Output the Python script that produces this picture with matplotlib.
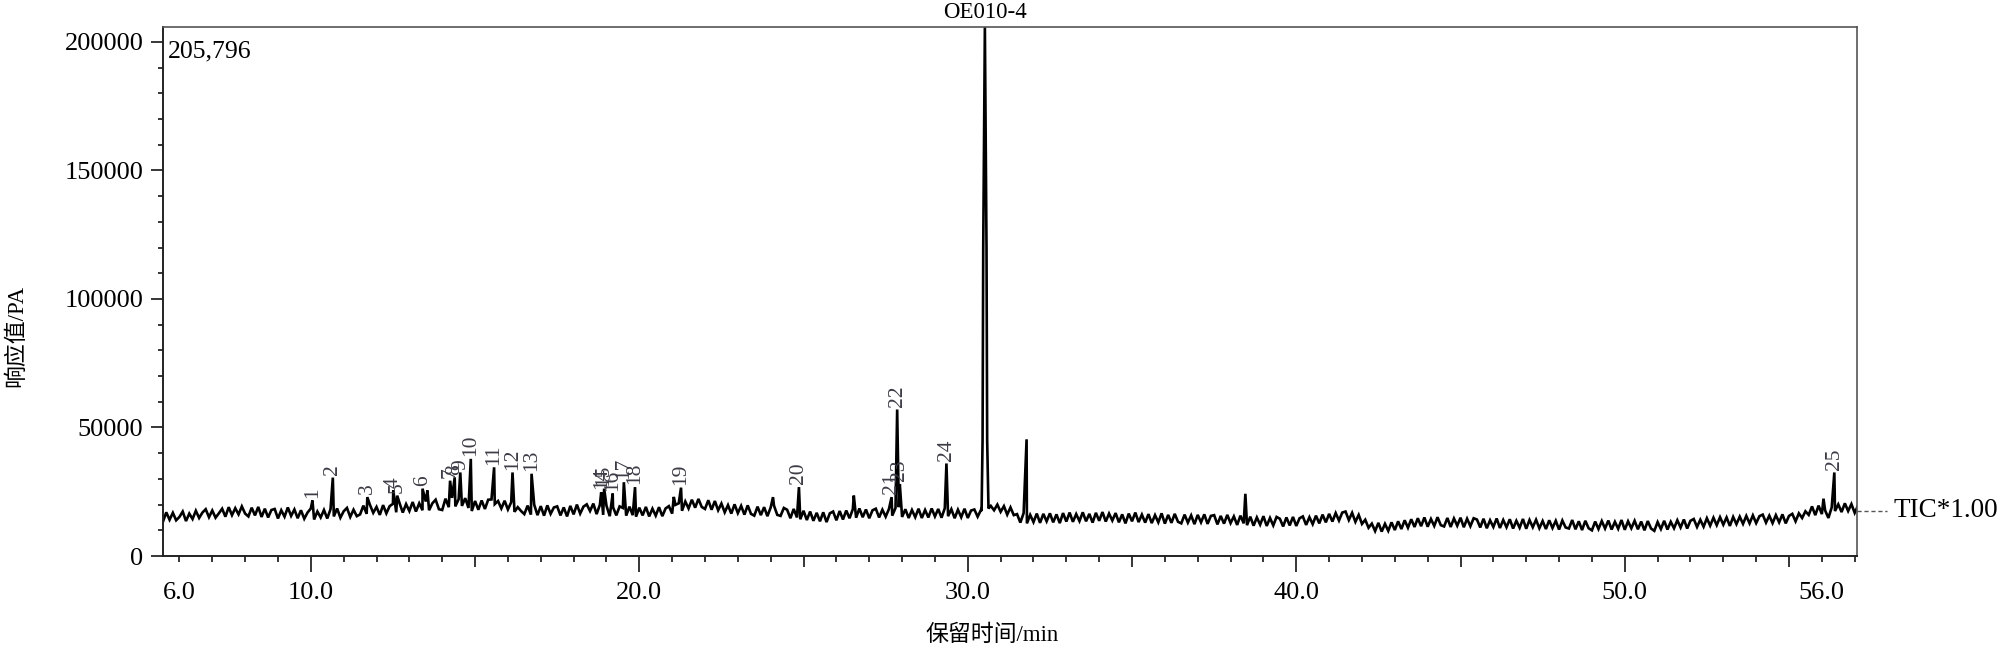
"""
TIC chromatogram of sample OE010-4 (response vs. retention time).
"""

import numpy as np
import matplotlib
matplotlib.use('Agg')
import matplotlib.pyplot as plt
import matplotlib.transforms as mtransforms

plt.rcParams['font.family'] = ['Liberation Serif', 'Noto Sans CJK SC']

# Baseline signal in thousands of PA, one sample every 0.1 min from 5.5 min
BASE_START = 5.5
BASE_STEP = 0.1
baseline_k = [
    13.4, 17.0, 14.1, 16.8, 13.9, 15.2, 17.3, 13.6, 16.5, 14.4,
    17.6, 14.8, 16.9, 18.2, 15.1, 17.7, 14.9, 16.6, 18.4, 15.3,
    19.0, 15.9, 18.6, 16.2, 19.3, 16.5, 15.4, 18.8, 15.8, 19.1,
    15.2, 18.4, 15.0, 17.9, 18.3, 14.6, 17.8, 15.3, 18.9, 15.6,
    18.1, 14.7, 17.8, 14.5, 16.9, 18.5, 14.2, 17.3, 15.0, 17.9,
    14.6, 18.2, 15.4, 18.5, 14.9, 17.4, 18.7, 15.2, 18.0, 15.5,
    16.2, 19.6, 16.4, 19.9, 16.8, 19.1, 16.0, 19.8, 16.6, 19.4,
    20.3, 17.0, 20.6, 16.9, 20.2, 17.5, 21.0, 17.3, 20.5, 17.8,
    21.2, 17.8, 20.5, 21.9, 18.2, 17.9, 22.3, 19.0, 22.6, 19.3,
    22.1, 19.5, 22.5, 18.7, 17.5, 21.4, 18.0, 21.6, 18.3, 21.9,
    22.0, 20.2, 21.4, 18.5, 21.5, 18.1, 20.9, 17.2, 19.0, 17.5,
    16.3, 19.6, 16.1, 20.0, 15.9, 19.4, 15.7, 19.7, 16.4, 18.9,
    19.3, 15.8, 18.9, 15.4, 19.5, 16.2, 20.0, 16.5, 19.2, 20.1,
    17.5, 20.4, 16.3, 19.9, 16.0, 19.6, 15.5, 19.0, 15.8, 19.3,
    18.7, 15.7, 19.2, 15.9, 15.3, 18.8, 15.8, 19.1, 15.4, 18.4,
    15.7, 19.0, 15.5, 18.5, 19.4, 16.5, 19.9, 20.5, 17.6, 21.2,
    18.5, 21.9, 18.8, 22.2, 19.1, 18.3, 21.7, 18.0, 21.4, 17.8,
    20.4, 17.0, 19.8, 16.5, 20.1, 16.7, 19.5, 16.1, 19.7, 16.4,
    15.7, 19.2, 15.9, 19.0, 15.5, 18.9, 19.6, 16.0, 15.6, 18.7,
    18.0, 14.7, 18.3, 15.0, 14.3, 17.6, 14.0, 17.3, 13.7, 16.8,
    13.5, 17.0, 13.2, 16.6, 17.3, 13.9, 17.5, 14.2, 17.7, 14.7,
    18.2, 14.9, 18.5, 15.1, 18.1, 14.7, 17.8, 18.4, 15.0, 18.0,
    15.3, 18.3, 15.7, 18.7, 19.0, 15.2, 18.2, 14.8, 17.9, 15.1,
    18.4, 14.8, 17.9, 15.0, 18.5, 15.4, 18.3, 14.9, 18.6, 15.5,
    18.2, 14.7, 18.0, 15.1, 18.4, 14.8, 17.7, 18.1, 15.3, 17.9,
    18.5, 19.2, 19.5, 17.8, 20.0, 17.2, 19.4, 16.1, 18.9, 15.9,
    16.3, 13.0, 16.7, 12.7, 16.0, 13.2, 16.5, 12.9, 16.4, 13.5,
    16.6, 13.1, 16.2, 12.8, 16.7, 13.4, 16.9, 13.3, 16.3, 13.6,
    17.0, 13.5, 16.4, 13.0, 16.8, 13.7, 17.1, 13.4, 16.5, 13.8,
    16.7, 13.1, 16.2, 12.7, 16.5, 13.5, 16.9, 13.2, 16.1, 13.0,
    16.3, 12.8, 15.9, 13.1, 16.6, 12.6, 16.0, 12.9, 16.4, 13.3,
    12.7, 16.1, 13.0, 15.8, 12.4, 16.0, 13.1, 16.2, 12.5, 15.6,
    15.9, 12.3, 15.6, 12.6, 16.0, 12.8, 15.4, 12.1, 15.7, 12.7,
    12.0, 15.3, 11.8, 15.0, 12.2, 15.5, 11.7, 14.8, 11.9, 15.2,
    14.5, 11.5, 15.0, 11.9, 15.2, 11.7, 14.7, 15.4, 12.1, 15.1,
    12.4, 15.7, 12.7, 16.1, 13.1, 16.4, 13.4, 16.7, 13.8, 16.9,
    17.3, 14.0, 16.8, 13.3, 16.0, 12.5, 14.1, 11.0, 12.6, 9.7,
    12.9, 9.5, 12.5, 9.8, 13.1, 10.1, 13.5, 10.5, 13.9, 11.0,
    14.3, 11.3, 14.7, 11.6, 15.0, 11.4, 14.4, 11.7, 15.1, 12.0,
    11.5, 14.8, 11.3, 14.6, 11.8, 14.9, 11.2, 14.5, 11.6, 14.7,
    14.2, 11.1, 14.5, 10.8, 13.9, 11.3, 14.6, 10.9, 14.0, 11.2,
    14.3, 10.7, 13.7, 11.0, 14.4, 10.6, 14.0, 11.2, 14.1, 10.8,
    13.6, 10.5, 13.9, 10.9, 13.7, 10.3, 13.8, 11.1, 10.7, 14.0,
    10.4, 13.5, 10.1, 13.7, 10.8, 10.0, 13.4, 10.5, 13.6, 10.7,
    13.8, 10.3, 13.3, 10.6, 14.0, 10.2, 13.5, 10.8, 13.7, 10.4,
    13.4, 10.0, 13.6, 10.7, 9.8, 13.2, 10.5, 13.7, 10.3, 13.3,
    10.8, 13.9, 11.1, 14.2, 10.7, 13.7, 14.4, 11.3, 14.1, 11.4,
    14.7, 11.8, 14.9, 12.0, 15.1, 12.2, 15.0, 11.7, 15.2, 12.4,
    15.3, 12.5, 15.6, 12.7, 15.8, 12.8, 15.5, 16.1, 13.0, 15.7,
    12.8, 15.9, 13.1, 16.2, 12.7, 15.6, 16.4, 13.5, 16.6, 14.8,
    17.4, 16.0, 19.3, 15.9, 19.6, 16.3, 17.7, 14.8, 18.9, 17.5,
    20.1, 17.1, 20.5, 17.5, 20.2, 16.8, 19.6,
]

# Narrow peaks: retention time (min), apex (thousands of PA), label
peak_times = [10.05, 10.67, 11.72, 12.51, 12.63, 13.40, 13.55, 14.24, 14.38,
              14.55, 14.87, 15.58, 16.14, 16.72, 18.84, 18.93, 19.19, 19.53,
              19.87, 21.05, 21.27, 24.07, 24.86, 26.53, 27.68, 27.85, 27.93,
              29.35, 31.79, 38.45, 56.05, 56.38]
peak_heights_k = [21.6, 30.5, 22.9, 25.5, 23.5, 26.2, 25.5, 29.3, 30.6,
                  32.5, 37.8, 34.5, 32.5, 32.0, 24.8, 26.2, 24.3, 28.7,
                  26.8, 23.0, 26.6, 22.9, 26.8, 23.5, 22.9, 57.0, 28.0,
                  36.0, 45.4, 24.2, 22.3, 32.5]
peak_labels = ['1', '2', '3', '4', '5', '6', '', '7', '8',
               '9', '10', '11', '12', '13', '14', '15', '16', '17',
               '18', '', '19', '', '20', '', '21', '22', '23',
               '24', '', '', '', '25']

# Main peak (OE010-4) outline
main_times = [30.42, 30.45, 30.47, 30.52, 30.57, 30.59, 30.63]
main_heights_k = [17.5, 45.0, 120.0, 205.796, 120.0, 45.0, 18.5]

Y_MAX = 205796
x_major = [6, 10, 15, 20, 25, 30, 35, 40, 45, 50, 55, 56]
x_labelled = {6: '6.0', 10: '10.0', 20: '20.0', 30: '30.0', 40: '40.0',
              50: '50.0', 56: '56.0'}
y_major = [0, 50000, 100000, 150000, 200000]

# Merge baseline, narrow peaks and main peak into one trace
base_t = BASE_START + BASE_STEP * np.arange(len(baseline_k))
base_y = np.array(baseline_k) * 1000
keep = (base_t < main_times[0]) | (base_t > main_times[-1])
t = np.concatenate([base_t[keep], peak_times, main_times])
y = np.concatenate([base_y[keep], np.array(peak_heights_k) * 1000,
                    np.array(main_heights_k) * 1000])
order = np.argsort(t, kind='stable')
t, y = t[order], y[order]

fig = plt.figure(figsize=(20, 6.46), dpi=100)
ax = fig.add_axes([0.0815, 0.1393, 0.847, 0.8189])

ax.plot(t, y, color='black', linewidth=1.9, solid_joinstyle='miter')

ax.set_xlim(5.5, 57.07)
ax.set_ylim(0, Y_MAX)

# Peak numbers
for pt, ph, lab in zip(peak_times, peak_heights_k, peak_labels):
    if lab:
        ax.annotate(lab, xy=(pt, ph * 1000), xytext=(0, 2),
                    textcoords='offset points', rotation=90,
                    ha='center', va='bottom', fontsize=15.5, color='#3c3c46')

# Ticks
ax.set_xticks(x_major)
ax.set_xticklabels([x_labelled.get(v, '') for v in x_major])
ax.set_xticks(np.arange(6, 58, 1), minor=True)
ax.set_yticks(y_major)
ax.set_yticklabels([str(v) for v in y_major])
ax.set_yticks(np.arange(0, 205000, 10000), minor=True)

ax.tick_params(axis='x', which='major', length=11.5, width=1.1, pad=7,
               labelsize=19, direction='out')
ax.tick_params(axis='x', which='minor', length=4.3, width=1.1, direction='out')
ax.tick_params(axis='y', which='major', length=8.6, width=1.1, pad=5.5,
               labelsize=19, direction='out')
ax.tick_params(axis='y', which='minor', length=3.8, width=1.1, direction='out')

# shorter marks for 6.0 / 56.0, medium for the 5-min steps
for tick, v in zip(ax.xaxis.get_major_ticks(), x_major):
    if v in (6, 56):
        tick.tick1line.set_markersize(4.3)
    elif v % 10 != 0:
        tick.tick1line.set_markersize(8.0)

for side in ('left', 'bottom'):
    ax.spines[side].set_linewidth(1.4)
    ax.spines[side].set_color('#222222')
for side in ('top', 'right'):
    ax.spines[side].set_linewidth(1.2)
    ax.spines[side].set_color('#555555')

# Annotations
ax.text(0.003, 0.975, '205,796', transform=ax.transAxes, ha='left', va='top',
        fontsize=18.5)
ax.text(30.52, Y_MAX, 'OE010-4', ha='center', va='bottom', fontsize=16.5,
        transform=mtransforms.offset_copy(ax.transData, fig=fig, x=0, y=3,
                                          units='points'))

blend = mtransforms.blended_transform_factory(ax.transAxes, ax.transData)
ax.plot([1.0, 1.0177], [17600, 17600], transform=blend, color='#555555',
        linestyle=(0, (3, 2)), linewidth=1.0, clip_on=False)
ax.text(1.0213, 17600, 'TIC*1.00', transform=blend, ha='left', va='center',
        fontsize=19.5)

fig.text(992 / 2000, 11 / 646, '保留时间/min', ha='center', va='center',
         fontsize=16.5)
fig.text(16 / 2000, 310 / 646, '响应值/PA', ha='center', va='center',
         rotation=90, fontsize=16.5)

fig.savefig('out.png', dpi=100, facecolor='white')
plt.close(fig)
